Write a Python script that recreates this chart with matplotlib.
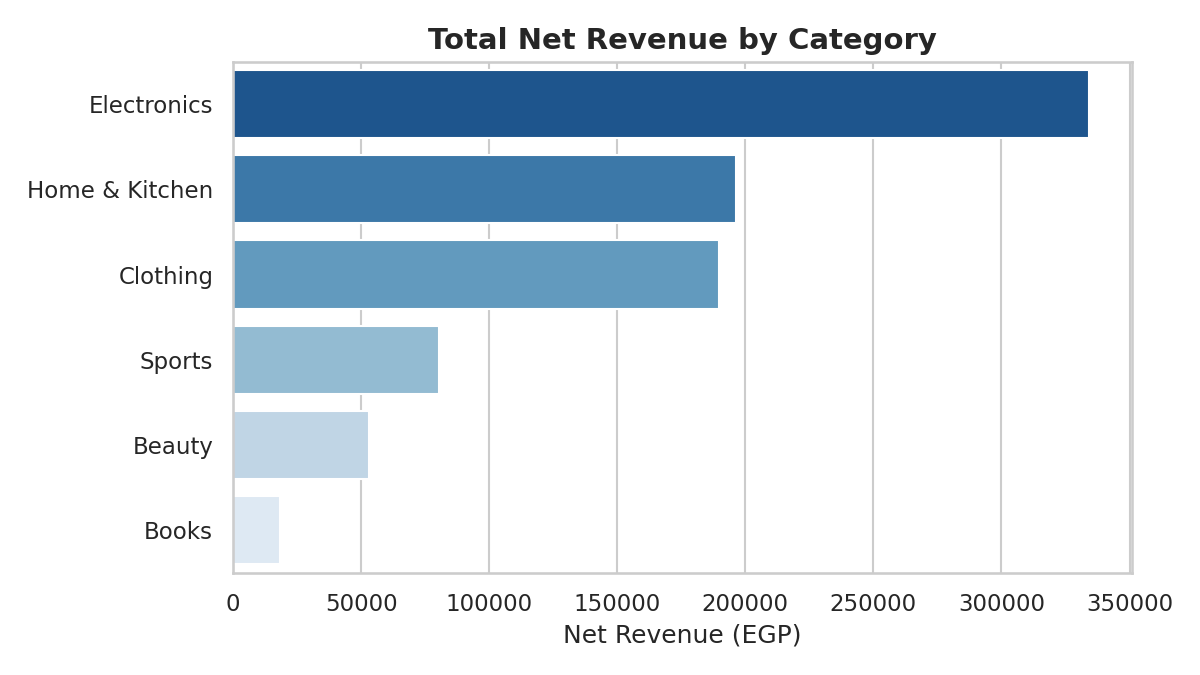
import matplotlib
matplotlib.use("Agg")
import matplotlib.pyplot as plt
import seaborn as sns
import pandas as pd

categories = ["Electronics", "Home & Kitchen", "Clothing", "Sports", "Beauty", "Books"]
net_revenue = [334200, 196500, 189700, 80500, 53200, 18500]

df = pd.DataFrame({"Category": categories, "Net Revenue": net_revenue})

sns.set_theme(style="whitegrid")
fig, ax = plt.subplots(figsize=(8, 4.5), dpi=150)
sns.barplot(data=df, x="Net Revenue", y="Category", hue="Category",
            palette="Blues_r", legend=False, ax=ax)
ax.set_title("Total Net Revenue by Category", fontsize=14, fontweight="bold")
ax.set_xlabel("Net Revenue (EGP)")
ax.set_ylabel("")
fig.tight_layout()
fig.savefig("out.png", dpi=150)
